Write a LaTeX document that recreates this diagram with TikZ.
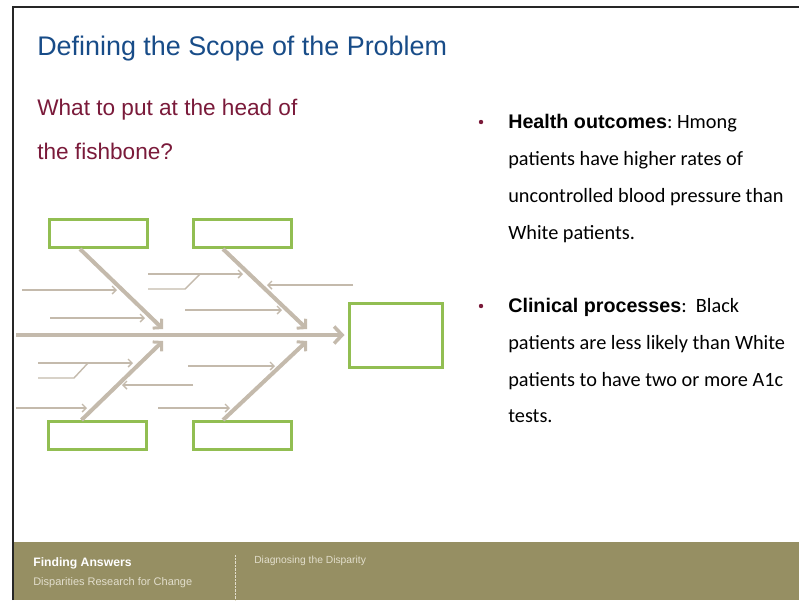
\documentclass[tikz,border=0pt]{standalone}
\usepackage{fontspec}
\setmainfont{Liberation Sans}
\newfontfamily\calibrifont{Carlito}
\usepackage{xcolor}
\usetikzlibrary{arrows,arrows.meta,positioning,calc}

\definecolor{titleblue}{RGB}{24,76,136}
\definecolor{askred}{RGB}{122,26,58}
\definecolor{boxgreen}{RGB}{146,190,82}
\definecolor{bonetan}{RGB}{196,186,172}
\definecolor{footolive}{RGB}{150,143,99}
\definecolor{footlight}{RGB}{226,222,204}

\begin{document}
\begin{tikzpicture}[x=1pt,y=-1pt,>=stealth',semithick]
			\tikzstyle{causebox}=[draw=boxgreen,line width=3pt,minimum width=98pt,minimum height=28pt,inner sep=0pt]
			\tikzstyle{bone}=[draw=bonetan,line width=4pt,-{Straight Barb[length=6pt,width=13pt,line width=3pt]}]
			\tikzstyle{spine}=[draw=bonetan,line width=4.5pt,-{Straight Barb[length=8pt,width=17pt,line width=3.5pt]}]
			\tikzstyle{twig}=[draw=bonetan,line width=1.4pt,-{Straight Barb[length=4pt,width=8pt,line width=1.4pt]}]
			\tikzstyle{subtwig}=[draw=bonetan,line width=1.4pt]
			\tikzstyle{bodytext}=[anchor=base west,inner sep=0pt,font=\calibrifont\fontsize{20.3}{24}\selectfont]
			
			\useasboundingbox (0,0) rectangle (799,600);
			\fill[white] (0,0) rectangle (799,600);
			
			% footer band
			\fill[footolive] (14,542) rectangle (799,600);
			\draw[footlight,densely dotted,thin] (235,555) -- (235,600);
			\node[anchor=base west,inner sep=0pt,text=white,font=\bfseries\fontsize{12.2}{14}\selectfont] (brand) at (33,566) {Finding Answers};
			\node[anchor=base west,inner sep=0pt,text=footlight,font=\fontsize{11}{13}\selectfont] (tagline) at (33,585) {Disparities Research for Change};
			\node[anchor=base west,inner sep=0pt,text=footlight,font=\fontsize{10.3}{12}\selectfont] (series) at (254,563) {Diagnosing the Disparity};
			
			% slide frame
			\draw[black!85,line width=2.5pt] (13,600) -- (13,7) -- (799,7);
			
			% headings
			\node[anchor=base west,inner sep=0pt,text=titleblue,font=\fontsize{26.9}{30}\selectfont] (title) at (37,55) {Defining the Scope of the Problem};
			\node[anchor=base west,inner sep=0pt,text=askred,font=\fontsize{22.6}{26}\selectfont] (ask1) at (37,115) {What to put at the head of};
			\node[anchor=base west,inner sep=0pt,text=askred,font=\fontsize{22.6}{26}\selectfont] (ask2) at (37,159) {the fishbone?};
			
			% right hand bullets
			\node[bodytext] (h1) at (508,128) {{\fontspec{Liberation Sans}\fontsize{19.7}{24}\selectfont\bfseries Health outcomes}:~Hmong};
			\node[bodytext] (h2) at (508,165) {patients have higher rates of};
			\node[bodytext] (h3) at (508,202) {uncontrolled blood pressure than};
			\node[bodytext] (h4) at (508,239) {White patients.};
			\node[bodytext] (c1) at (508,312) {{\fontspec{Liberation Sans}\fontsize{19.7}{24}\selectfont\bfseries Clinical processes}:~~Black};
			\node[bodytext] (c2) at (508,349) {patients are less likely than White};
			\node[bodytext] (c3) at (508,386) {patients to have two or more A1c};
			\node[bodytext] (c4) at (508,422) {tests.};
			\fill[askred] (481,122) circle (2.2pt);
			\fill[askred] (481,306) circle (2.2pt);
			
			% fishbone boxes
			\node[causebox] (TL) at (98.5,233.5) {};
			\node[causebox] (TR) at (242.5,233.5) {};
			\node[causebox] (BL) at (97,435.5) {};
			\node[causebox] (BR) at (242.5,435.5) {};
			\node[causebox, minimum width=93pt, minimum height=64pt] (head) at (395.5,335) {};
			
			% spine and bones
			\coordinate (tail) at (16,335);
			\coordinate (J1) at (163,335);
			\coordinate (J2) at (307,335);
			\draw[spine] (tail) -- ([xshift=-3pt]head.west);
			\draw[bone] ($(TL.south west)+(32,0)$) -- ($(J1)+(0,-6)$);
			\draw[bone] ($(TR.south west)+(31,0)$) -- ($(J2)+(0,-6)$);
			\draw[bone] ($(BL.north west)+(35,0)$) -- ($(J1)+(0,6)$);
			\draw[bone] ($(BR.north west)+(31,0)$) -- ($(J2)+(0,6)$);
			
			% small causes
			\coordinate (a1) at (22,290);   \coordinate (a2) at (117,290);
			\coordinate (b1) at (50,318);   \coordinate (b2) at (145,318);
			\coordinate (c1s) at (148,274); \coordinate (c2s) at (243,274);
			\coordinate (d1) at (148,289);  \coordinate (d2) at (185,289); \coordinate (d3) at (200,274);
			\coordinate (e1) at (353,285);  \coordinate (e2) at (267,285);
			\coordinate (f1) at (185,310);  \coordinate (f2) at (282,310);
			\coordinate (g1) at (38,363);   \coordinate (g2) at (133,363);
			\coordinate (k1) at (38,378);   \coordinate (k2) at (74,378); \coordinate (k3) at (88,363);
			\coordinate (m1) at (193,385);  \coordinate (m2) at (122,385);
			\coordinate (n1) at (16,408);   \coordinate (n2) at (87,408);
			\coordinate (p1) at (188,366);  \coordinate (p2) at (275,366);
			\coordinate (q1) at (158,408);  \coordinate (q2) at (230,408);
			
			\path
			(a1) edge[twig] (a2)
			(b1) edge[twig] (b2)
			(c1s) edge[twig] (c2s)
			(e1) edge[twig] (e2)
			(f1) edge[twig] (f2)
			(g1) edge[twig] (g2)
			(m1) edge[twig] (m2)
			(n1) edge[twig] (n2)
			(p1) edge[twig] (p2)
			(q1) edge[twig] (q2);
			\draw[subtwig] (d1) -- (d2) -- (d3);
			\draw[subtwig] (k1) -- (k2) -- (k3);
\end{tikzpicture}
\end{document}
